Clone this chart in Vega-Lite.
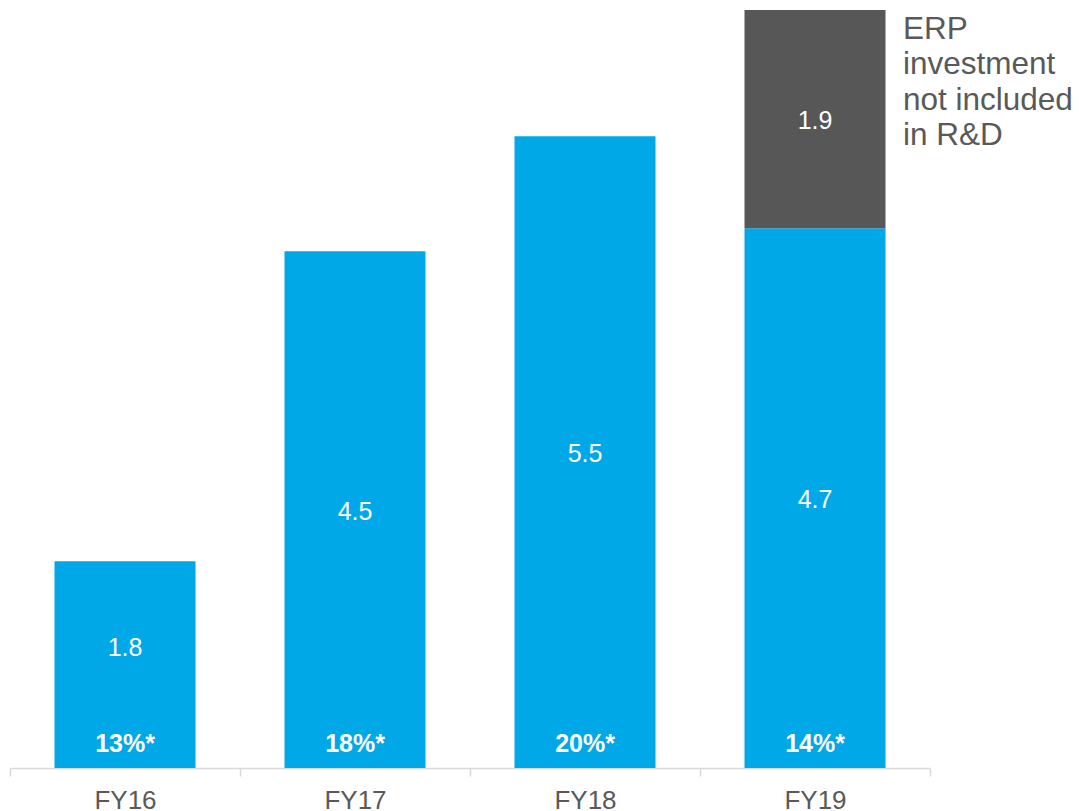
{
  "$schema": "https://vega.github.io/schema/vega-lite/v6.json",
  "autosize": {"type": "none"},
  "padding": {"left": 10, "top": 10, "right": 149, "bottom": 43},
  "width": 920,
  "height": 758,
  "background": "white",
  "config": {"view": {"stroke": null}, "font": "Liberation Sans"},
  "data": {
    "values": [
      {"year": "FY16", "segment": "R&D", "value": 1.8, "pct": "13%*"},
      {"year": "FY17", "segment": "R&D", "value": 4.5, "pct": "18%*"},
      {"year": "FY18", "segment": "R&D", "value": 5.5, "pct": "20%*"},
      {"year": "FY19", "segment": "R&D", "value": 4.7, "pct": "14%*"},
      {"year": "FY19", "segment": "ERP", "value": 1.9, "pct": null}
    ]
  },
  "transform": [
    {"stack": "value", "groupby": ["year"], "sort": [{"field": "segment", "order": "descending"}], "as": ["v0", "v1"]},
    {"calculate": "(datum.v0 + datum.v1) / 2", "as": "mid"}
  ],
  "encoding": {
    "x": {
      "field": "year",
      "type": "nominal",
      "sort": ["FY16", "FY17", "FY18", "FY19"],
      "scale": {"paddingInner": 0, "paddingOuter": 0},
      "axis": {
        "title": null,
        "labelAngle": 0,
        "labelFontSize": 26,
        "labelColor": "#595959",
        "labelBaseline": "alphabetic",
        "labelPadding": 32,
        "domainColor": "#d9d9d9",
        "domainWidth": 1.5,
        "tickColor": "#d9d9d9",
        "tickWidth": 1.5,
        "tickSize": 8,
        "tickBand": "extent"
      }
    }
  },
  "layer": [
    {
      "mark": {"type": "bar", "width": {"band": 0.613}},
      "encoding": {
        "y": {"field": "v0", "type": "quantitative", "scale": {"domain": [0, 6.6], "nice": false, "zero": true}, "axis": null},
        "y2": {"field": "v1"},
        "color": {"field": "segment", "type": "nominal", "scale": {"domain": ["R&D", "ERP"], "range": ["#00A8E8", "#575757"]}, "legend": null}
      }
    },
    {
      "transform": [{"filter": "datum.year != 'FY16'"}],
      "mark": {"type": "text", "color": "white", "fontSize": 25, "baseline": "middle", "dy": 2},
      "encoding": {
        "y": {"field": "mid", "type": "quantitative"},
        "text": {"field": "value", "type": "quantitative", "format": ".1f"}
      }
    },
    {
      "transform": [{"filter": "datum.year == 'FY16'"}],
      "mark": {"type": "text", "color": "white", "fontSize": 25, "baseline": "middle", "dy": -17},
      "encoding": {
        "y": {"field": "mid", "type": "quantitative"},
        "text": {"field": "value", "type": "quantitative", "format": ".1f"}
      }
    },
    {
      "transform": [{"filter": "datum.pct != null"}],
      "mark": {"type": "text", "color": "white", "fontSize": 25, "fontWeight": "bold", "baseline": "middle", "dy": -24},
      "encoding": {
        "y": {"datum": 0, "type": "quantitative"},
        "text": {"field": "pct", "type": "nominal"}
      }
    },
    {
      "transform": [{"filter": "datum.segment == 'ERP'"}],
      "mark": {"type": "text", "color": "#595959", "fontSize": 31.5, "align": "left", "baseline": "alphabetic", "dx": 88, "dy": 29, "lineHeight": 35.3, "lineBreak": "\n", "text": "ERP\ninvestment\nnot included\nin R&D"},
      "encoding": {
        "y": {"datum": 6.6, "type": "quantitative"}
      }
    }
  ]
}
